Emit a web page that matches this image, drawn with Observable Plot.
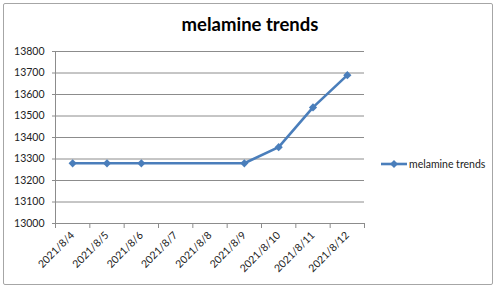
<!DOCTYPE html>
<html>
<head>
<meta charset="utf-8">
<script src="https://cdn.jsdelivr.net/npm/d3@7"></script>
<script src="https://cdn.jsdelivr.net/npm/@observablehq/plot@0.6"></script>
<style>
  html, body { margin: 0; padding: 0; background: #fff; }
  #wrap { position: relative; width: 500px; height: 295px; overflow: hidden; font-family: Lato, "Open Sans", sans-serif; }
  #frame { position: absolute; left: 3px; top: 3px; width: 490px; height: 282px; border: 1.5px solid #a6a6a6; border-radius: 2px; box-sizing: border-box; }
  #title { position: absolute; left: 0; width: 500px; top: 13px; text-align: center; font-weight: bold; font-size: 18.5px; color: #000; }
  #legend { position: absolute; left: 381px; top: 158px; font-size: 10.5px; color: #222; display: flex; align-items: center; }
  #chart { position: absolute; left: 0; top: 0; }
</style>
</head>
<body>
<div id="wrap">
  <div id="chart"></div>
  <div id="frame"></div>
  <div id="title">melamine trends</div>
  <div id="legend"></div>
</div>
<script>
// Data
const categories = ["2021/8/4", "2021/8/5", "2021/8/6", "2021/8/7", "2021/8/8", "2021/8/9", "2021/8/10", "2021/8/11", "2021/8/12"];
const pointDates = ["2021/8/4", "2021/8/5", "2021/8/6", "2021/8/9", "2021/8/10", "2021/8/11", "2021/8/12"];
const pointValues = [13280, 13280, 13280, 13280, 13355, 13540, 13690];
const yTicks = [13000, 13100, 13200, 13300, 13400, 13500, 13600, 13700, 13800];
const seriesName = "melamine trends";

const color = "#4a7ebb";
const gridColor = "#8c8c8c";

const data = pointDates.map((d, i) => ({date: d, idx: categories.indexOf(d) + 0.5, value: pointValues[i]}));
const boundaries = d3.range(categories.length + 1);
const centers = categories.map((c, i) => i + 0.5);

const chart = Plot.plot({
  width: 500,
  height: 295,
  marginLeft: 55,
  marginRight: 136,
  marginTop: 51,
  marginBottom: 72,
  style: {fontFamily: "Lato, 'Open Sans', sans-serif", background: "transparent"},
  x: {type: "linear", domain: [0, categories.length]},
  y: {domain: [yTicks[0], yTicks[yTicks.length - 1]]},
  marks: [
    Plot.gridY(yTicks.slice(1), {stroke: gridColor, strokeOpacity: 1, strokeWidth: 1}),
    Plot.ruleX([0], {stroke: gridColor, strokeWidth: 1}),
    Plot.ruleY([yTicks[0]], {stroke: gridColor, strokeWidth: 1}),
    Plot.axisY(yTicks, {tickSize: 3, tickPadding: 8, stroke: gridColor, fill: "#222", fontSize: 10.5, tickFormat: d => String(d), label: null}),
    Plot.axisX(boundaries, {tickSize: 5, stroke: gridColor, tickFormat: () => "", label: null}),
    Plot.axisX(centers, {tickSize: 0, tickPadding: 10, tickRotate: -45, fill: "#222", fontSize: 10.5, tickFormat: d => categories[Math.floor(d)], label: null}),
    Plot.line(data, {x: "idx", y: "value", stroke: color, strokeWidth: 2.6}),
    Plot.dot(data, {x: "idx", y: "value", symbol: "diamond2", r: 3.7, fill: color, stroke: "none"})
  ]
});
document.getElementById("chart").appendChild(chart);

// Legend
const lg = document.getElementById("legend");
lg.innerHTML = `<svg width="26" height="10" style="margin-right:2px"><line x1="0" x2="26" y1="5" y2="5" stroke="${color}" stroke-width="2.6"/><path d="M13,1 L17,5 L13,9 L9,5 Z" fill="${color}"/></svg><span>${seriesName}</span>`;
</script>
</body>
</html>
